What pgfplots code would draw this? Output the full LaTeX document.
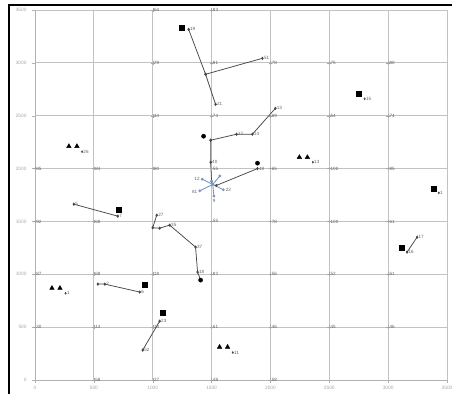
\documentclass[border=0pt]{standalone}
\usepackage{pgfplots}
\pgfplotsset{compat=1.18}
\usepackage{fontspec}
\setmainfont{Liberation Sans}
\definecolor{gridc}{gray}{0.76}
\definecolor{linec}{gray}{0.28}
\definecolor{labc}{gray}{0.38}
\definecolor{bluec}{RGB}{120,150,200}
\begin{document}
\begin{tikzpicture}
\useasboundingbox (0,0) rectangle (452bp,394bp);
% chart border
\draw[line width=1.6bp, black] (9bp,-10bp) -- (9bp,389bp) -- (470bp,389bp);
\begin{axis}[
  at={(35bp,14bp)}, anchor=south west,
  width=412bp, height=370bp, scale only axis,
  xmin=0, xmax=3500, ymin=0, ymax=3500,
  xtick={0,500,...,3500}, ytick={0,500,...,3500},
  grid=major, grid style={gridc, line width=0.8bp},
  axis x line*=bottom, axis y line*=left,
  axis line style={gray!60, line width=0.8bp},
  tick style={gray!60}, major tick length=3bp, tick align=outside,
  ticklabel style={font=\fontsize{4.8}{5}\selectfont, text=gray!70},
  yticklabel style={xshift=-2bp},
  /pgf/number format/assume math mode=true,
  /pgf/number format/1000 sep={},
  clip=false,
  point meta=explicit symbolic,
  nodes near coords style={font=\fontsize{4.6}{5}\selectfont, text=labc, anchor=west, inner sep=1.2bp},
]
% survey grid stations
\addplot[only marks, mark=+, mark size=1.8bp, gray!70, nodes near coords] coordinates {
 (1000,3500) [64] (1500,3500) [83]
 (1000,3000) [78] (1500,3000) [81] (2000,3000) [78] (2500,3000) [75] (3000,3000) [80]
 (1000,2500) [14] (1500,2500) [74] (2000,2500) [69] (2500,2500) [54] (3000,2500) [74]
 (0,2000) [85] (500,2000) [84] (1000,2000) [80] (1500,2000) [55] (2000,2000) [65] (2500,2000) [100] (3000,2000) [85]
 (0,1500) [92] (500,1500) [68] (1500,1500) [55] (2000,1500) [78] (2500,1500) [100] (3000,1500) [61]
 (0,1000) [87] (500,1000) [68] (1000,1000) [18] (1500,1000) [82] (2000,1000) [56] (2500,1000) [52] (3000,1000) [61]
 (0,500) [30] (500,500) [14] (1000,500) [14] (1500,500) [61] (2000,500) [46] (2500,500) [45] (3000,500) [46]
 (500,0) [58] (1000,0) [27] (1500,0) [48] (2000,0) [58]
};
% traverses
\pgfplotsset{trav/.style={linec, line width=0.75bp, mark=diamond*, mark size=1.1bp, mark options={fill=linec}, nodes near coords}}
\addplot[trav] coordinates {(1305,3317) [19] (1449,2892) [] (1534,2608) [21]};
\addplot[trav] coordinates {(1449,2892) [] (1932,3043) [51]};
\addplot[trav] coordinates {(1492,2268) [] (1712,2325) [17] (1847,2325) [14] (2042,2570) [13]};
\addplot[trav] coordinates {(1492,2268) [] (1492,2060) [40] (1500,1880) []};
\addplot[trav] coordinates {(1890,2000) [48] (1540,1840) []};
\addplot[trav] coordinates {(330,1663) [5] (703,1550) [7]};
\addplot[trav] coordinates {(1034,1559) [27] (1000,1440) [] (1059,1436) [] (1144,1465) [35] (1364,1257) [37] (1381,1021) [18] (1407,945) []};
\addplot[trav] coordinates {(534,907) [] (593,907) [2] (890,832) [6]};
\addplot[trav] coordinates {(3161,1210) [16] (3246,1351) [17]};
\addplot[trav] coordinates {(1059,557) [23] (915,283) [52]};
% central cluster
\pgfplotsset{clus/.style={bluec, line width=0.9bp, mark=*, mark size=0.9bp, mark options={fill=bluec}}}
\addplot[clus] coordinates {(1420,1900) (1510,1850) (1600,1800)};
\addplot[clus] coordinates {(1400,1790) (1510,1850) (1570,1930)};
\addplot[clus] coordinates {(1500,1880) (1510,1850) (1520,1740)};
\addplot[only marks, mark=none, nodes near coords, nodes near coords style={anchor=east}] coordinates {(1410,1900) [12] (1390,1780) [81]};
\addplot[only marks, mark=none, nodes near coords] coordinates {(1610,1800) [22] (1500,1690) [9]};
% benchmarks
\addplot[only marks, mark=square*, mark size=2.5bp, black] coordinates {
 (1246,3336) [] (712,1607) [] (932,898) [] (2754,2712) [] (3390,1814) [] (3119,1247) [] (1085,633) []};
\addplot[only marks, mark=*, mark size=2.1bp, black, mark options={fill=black}] coordinates {(1432,2306) [] (1890,2051) [] (1407,945) []};
\addplot[only marks, mark=triangle*, mark size=2.6bp, black] coordinates {
 (144,869) [] (212,869) [] (288,2211) [] (356,2211) [] (2246,2107) [] (2314,2107) [] (1568,312) [] (1636,312) []};
\addplot[only marks, mark=diamond*, mark size=1bp, linec, nodes near coords] coordinates {
 (260,820) [1] (400,2160) [26] (2360,2060) [13] (1680,260) [11] (2800,2660) [15] (3430,1770) [1]};
\end{axis}
\end{tikzpicture}
\end{document}
